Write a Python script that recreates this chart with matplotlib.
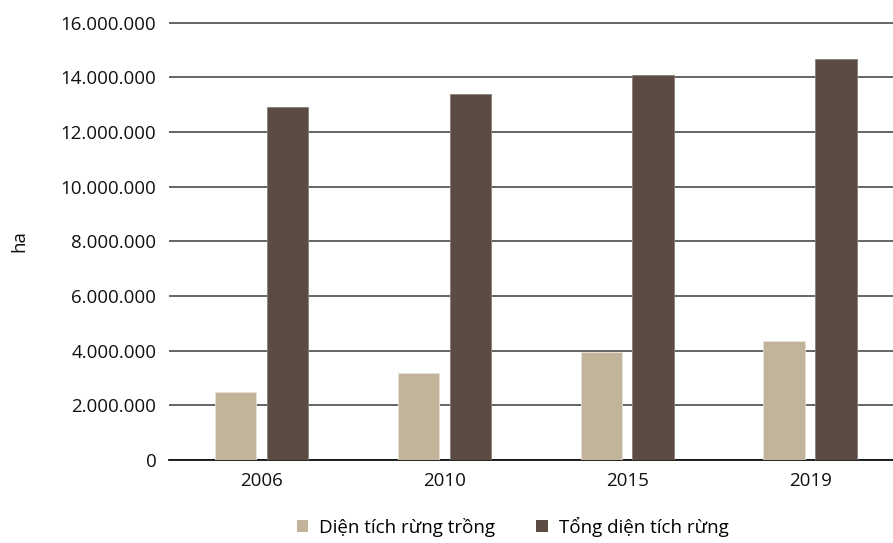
import matplotlib.pyplot as plt
from matplotlib.ticker import FuncFormatter
from matplotlib.patches import Patch

plt.rcParams['font.family'] = ['Open Sans', 'Noto Sans', 'DejaVu Sans']

years = ['2006', '2010', '2015', '2019']
planted = [2_480_000, 3_170_000, 3_930_000, 4_340_000]
total = [12_900_000, 13_390_000, 14_080_000, 14_650_000]
labels = ['Diện tích rừng trồng', 'Tổng diện tích rừng']

c_planted = '#c2b49a'
c_total = '#5b4b42'

fig = plt.figure(figsize=(8.93, 5.43), dpi=100)
ax = fig.add_axes([0.189, 0.153, 0.811, 0.808])

x = list(range(len(years)))
w = 0.227
ax.bar([i - 0.142 for i in x], planted, width=w, color=c_planted,
       edgecolor='#e6dfd2', linewidth=0.6, zorder=3)
ax.bar([i + 0.142 for i in x], total, width=w, color=c_total,
       edgecolor='#8a7f79', linewidth=0.6, zorder=3)

ax.set_xlim(-0.507, 3.453)
ax.set_ylim(0, 16_050_000)
ax.set_yticks(range(0, 16_000_001, 2_000_000))
ax.yaxis.set_major_formatter(FuncFormatter(lambda v, p: f'{int(v):,}'.replace(',', '.')))
ax.set_xticks(x)
ax.set_xticklabels(years)

ax.grid(axis='y', color='#3a3a3a', linewidth=1.1, zorder=0)
for s in ['top', 'right', 'left']:
    ax.spines[s].set_visible(False)
ax.spines['bottom'].set_color('#111111')
ax.spines['bottom'].set_linewidth(1.3)
ax.tick_params(axis='both', length=0, labelsize=13.5, colors='#111111')
ax.tick_params(axis='y', pad=9)
ax.tick_params(axis='x', pad=9)

fig.text(0.022, 0.556, 'ha', rotation=90, ha='center', va='center',
         fontsize=13.5, color='#111111')

handles = [Patch(facecolor=c_planted, edgecolor='none'),
           Patch(facecolor=c_total, edgecolor='none')]
fig.legend(handles, labels, loc='center', bbox_to_anchor=(0.574, 0.03),
           ncol=2, frameon=False, fontsize=13.5, handlelength=0.6,
           handleheight=0.6, handletextpad=0.6, columnspacing=2.2)

fig.savefig('out.png', dpi=100)
